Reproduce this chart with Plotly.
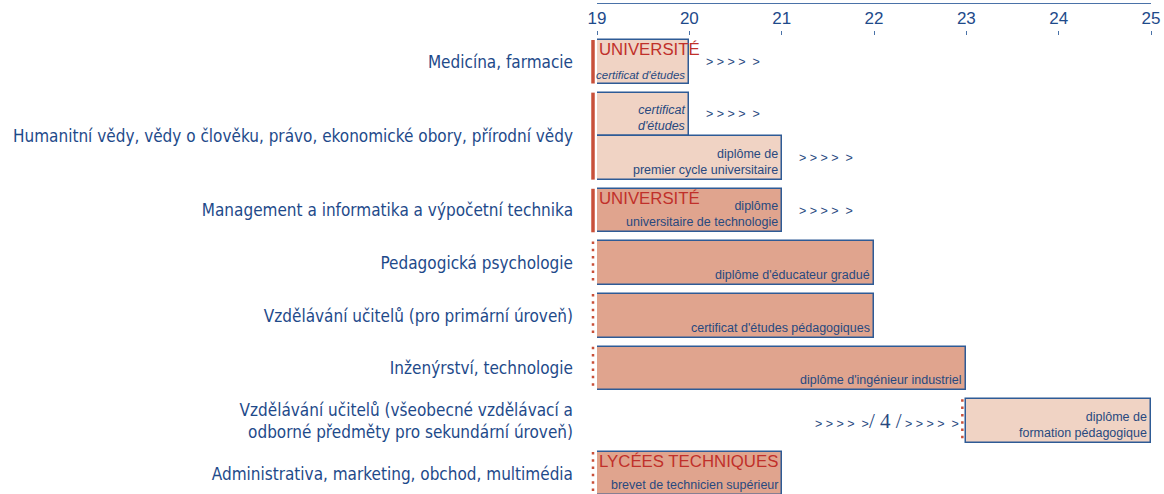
import plotly.graph_objects as go

# rows (left labels)
categories = [
    "Medicína, farmacie",
    "Humanitní vědy, vědy o člověku, právo, ekonomické obory, přírodní vědy",
    "Management a informatika a výpočetní technika",
    "Pedagogická psychologie",
    "Vzdělávání učitelů (pro primární úroveň)",
    "Inženýrství, technologie",
    "Vzdělávání učitelů (všeobecné vzdělávací a<br>odborné předměty pro sekundární úroveň)",
    "Administrativa, marketing, obchod, multimédia",
]
row_admission = ["selective", "selective", "selective", "open", "open", "open", "open", "open"]

# programmes (bars)
bar_row = [0, 1, 1, 2, 3, 4, 5, 6, 7]
bar_start = [19, 19, 19, 19, 19, 19, 19, 23, 19]
bar_end = [20, 20, 21, 21, 22, 22, 23, 25, 21]
bar_isced = ["5A", "5A", "5A", "5B", "5B", "5B", "5B", "5A", "5B"]
bar_label = [
    "<i>certificat d'études</i>",
    "<i>certificat<br>d'études</i>",
    "diplôme de<br>premier cycle universitaire",
    "diplôme<br>universitaire de technologie",
    "diplôme d'éducateur gradué",
    "certificat d'études pédagogiques",
    "diplôme d'ingénieur industriel",
    "diplôme de<br>formation pédagogique",
    "brevet de technicien supérieur",
]
bar_institution = ["UNIVERSITÉ", "", "", "UNIVERSITÉ", "", "", "", "", "LYCÉES TECHNIQUES"]
bar_continues = [True, True, True, True, False, False, False, False, False]
bar_prior_years = [None, None, None, None, None, None, None, 4, None]

years = [19, 20, 21, 22, 23, 24, 25]

NAVY = "#1E4A8A"
TEXT = "#28497F"
RED = "#C0302A"
FILL = {"5A": "#F0D3C4", "5B": "#E0A48E"}
GAP = 0.21
W, H = 1164, 494
M = dict(l=597, r=13, t=4, b=0)

# vertical layout: each bar is one unit tall, rows separated by GAP
row_top = []
y = 0.0
for r in range(len(categories)):
    row_top.append(y)
    y += bar_row.count(r) + GAP
row_n = [bar_row.count(r) for r in range(len(categories))]
row_center = [row_top[r] + row_n[r] / 2 for r in range(len(categories))]

bar_center = []
seen = {}
for r in bar_row:
    k = seen.get(r, 0)
    bar_center.append(row_top[r] + k + 0.5)
    seen[r] = k + 1

x0, x1 = years[0], years[-1]
y_range = [row_top[-1] + 1 - 0.033, -0.828]
px_per_unit = (H - M["t"] - M["b"]) / (y_range[0] - y_range[1])
px_per_year = (W - M["l"] - M["r"]) / (x1 - x0)
half_bar_px = 0.5 * px_per_unit


def label_size(text, span, base=12.5):
    # shrink the label a little when it would not fit inside its bar
    plain = text.replace("<i>", "").replace("</i>", "")
    longest = max(len(s) for s in plain.split("<br>"))
    room = span * px_per_year - 5
    return min(base, room / (0.4 * longest))


fig = go.Figure()
fig.add_trace(go.Bar(
    y=bar_center,
    x=[e - s for s, e in zip(bar_start, bar_end)],
    base=bar_start,
    width=[1] * len(bar_start),
    orientation="h",
    marker=dict(color=[FILL[c] for c in bar_isced], line=dict(color="#2E5B96", width=1.5)),
    hoverinfo="skip",
    showlegend=False,
))
# dummy trace so the labelled tick axis is drawn
fig.add_trace(go.Scatter(x=[x0, x1], y=[0, 0], xaxis="x2", mode="markers",
                         marker=dict(opacity=0), hoverinfo="skip", showlegend=False))

ann = []
chev = "&gt;\u00a0&gt;\u00a0&gt;\u00a0&gt;\u00a0\u00a0&gt;"
for i in range(len(bar_row)):
    # anchored at the bar centre and shifted in pixels, so text stays visible
    # even when the bar edge falls outside the axis range
    ann.append(dict(x=bar_end[i], y=bar_center[i], xref="x", yref="y", text=bar_label[i],
                    xanchor="right", yanchor="bottom", align="right", xshift=-2,
                    yshift=-half_bar_px + 1, showarrow=False,
                    font=dict(size=label_size(bar_label[i], bar_end[i] - bar_start[i]),
                              color=TEXT)))
    if bar_institution[i]:
        ann.append(dict(x=bar_start[i], y=bar_center[i], xref="x", yref="y",
                        text=bar_institution[i], xanchor="left", yanchor="top",
                        xshift=0, yshift=half_bar_px + 2,
                        showarrow=False, font=dict(size=16.8, color=RED)))
    if bar_continues[i]:
        ann.append(dict(x=bar_end[i], y=bar_center[i], xref="x", yref="y", text=chev,
                        xanchor="left", yanchor="middle", xshift=15,
                        showarrow=False, font=dict(size=12.5, color=TEXT)))
    if bar_prior_years[i]:
        t = (chev + "<span style='font-family:Liberation Serif;font-size:21px'>/ "
             + str(bar_prior_years[i]) + " /</span>\u00a0" + chev)
        ann.append(dict(x=bar_start[i], y=bar_center[i], xref="x", yref="y", text=t,
                        xanchor="right", yanchor="middle", xshift=-5,
                        showarrow=False, font=dict(size=12.5, color=TEXT)))

# red markers left of each row (paper x so they are not clipped by the plot area)
shapes = []
for r in range(len(categories)):
    x_row = min(s for s, rr in zip(bar_start, bar_row) if rr == r)
    solid = row_admission[r] == "selective"
    shapes.append(dict(type="line", xref="paper", yref="y", xsizemode="pixel",
                       xanchor=(x_row - x0) / (x1 - x0),
                       x0=-4, x1=-4, y0=row_top[r], y1=row_top[r] + row_n[r],
                       line=dict(color="#C8503A", width=3.5 if solid else 2.5,
                                 dash="solid" if solid else "2.5px,4.8px")))

fig.update_layout(
    width=W, height=H,
    margin=M,
    paper_bgcolor="white", plot_bgcolor="white",
    bargap=0,
    xaxis=dict(range=[x0, x1], side="top", showline=True, linecolor="#4A72A8", linewidth=1.2,
               tickvals=[x0, x1], ticks="inside", ticklen=4, tickcolor="#4A72A8",
               showticklabels=False, showgrid=False, zeroline=False),
    xaxis2=dict(range=[x0, x1], overlaying="x", side="top", anchor="free",
                position=(H - 35) / (H - M["t"]), tickvals=years, ticks="outside", ticklen=4,
                tickcolor="#4A72A8", showline=False, showgrid=False, zeroline=False,
                tickfont=dict(family="Liberation Sans, Arial", size=17, color=NAVY)),
    yaxis=dict(range=y_range, tickvals=row_center, ticktext=categories,
               ticks="", showgrid=False, zeroline=False, showline=False, ticklabelstandoff=23,
               tickfont=dict(family="Liberation Sans Narrow, DejaVu Sans Condensed, Roboto",
                             size=17, color=NAVY)),
    font=dict(family="Liberation Sans, Arial"),
    annotations=ann,
    shapes=shapes,
)

fig.write_html("out.html", config={"displayModeBar": False},
               post_script="document.body.style.margin='0';")
